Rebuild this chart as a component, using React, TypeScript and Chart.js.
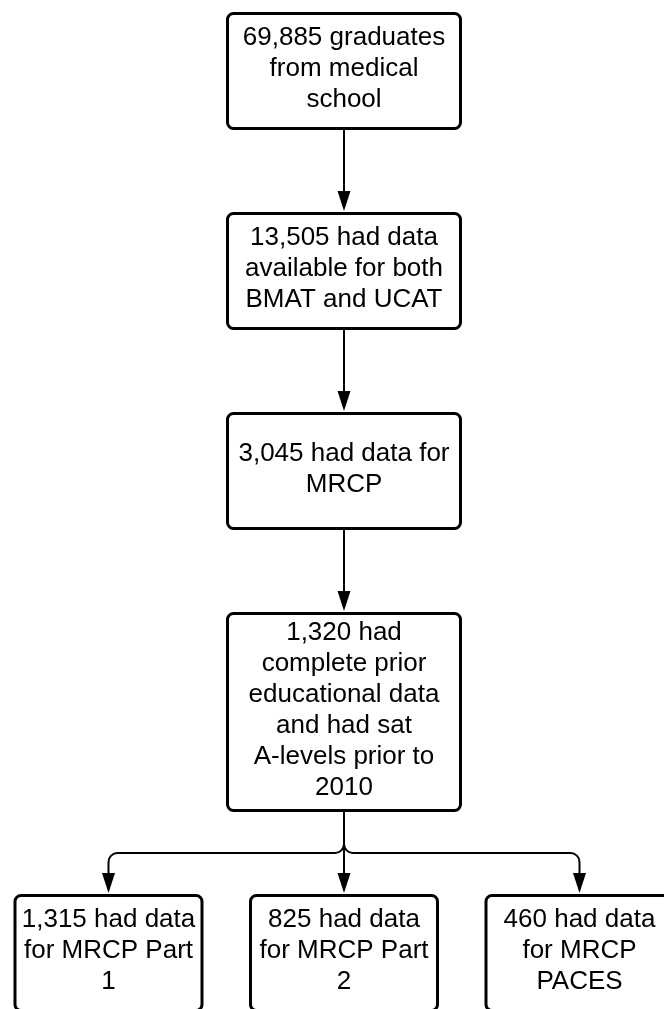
import React, { useEffect, useRef } from "react";
import { Chart, registerables } from "chart.js";

Chart.register(...registerables);

// ---- data ----
const nodeTexts: string[][] = [
  ["69,885 graduates", "from medical", "school"],
  ["13,505 had data", "available for both", "BMAT and UCAT"],
  ["3,045 had data for", "MRCP"],
  ["1,320 had", "complete prior", "educational data", "and had sat", "A-levels prior to", "2010"],
  ["1,315 had data", "for MRCP Part", "1"],
  ["825 had data", "for MRCP Part", "2"],
  ["460 had data", "for MRCP", "PACES"],
];
const nodeRows: number[] = [0, 1, 2, 3, 4, 4, 4];
const nodeCols: number[] = [1, 1, 1, 1, 0, 1, 2];
const edges: [number, number][] = [
  [0, 1],
  [1, 2],
  [2, 3],
  [3, 4],
  [3, 5],
  [3, 6],
];

// ---- layout / style ----
const W = 664;
const H = 1009;
const FONT = '26px "Liberation Sans", Arial, sans-serif';
const LINE_H = 31;
const MIN_BOX_H = 118;
const BOX_PAD = 14;
const FIRST_TOP = 12;
const ROW_GAP = 82;
const COL_PX = 235.5;
const COL0_PX = 108.5;
const WIDE_BOX_W = 236;
const NARROW_BOX_W = 190;
const BORDER_W = 3;
const EDGE_W = 2;
const ARROW_LEN = 20;
const ARROW_HALF = 6.5;
const CORNER_R = 6;
const ELBOW_R = 9;

function boxOuterH(i: number) {
  return Math.max(MIN_BOX_H, nodeTexts[i].length * LINE_H + BOX_PAD);
}

function rowLayout() {
  const nRows = Math.max(...nodeRows) + 1;
  const heights: number[] = [];
  for (let r = 0; r < nRows; r++) {
    let h = 0;
    nodeRows.forEach((row, i) => {
      if (row === r) h = Math.max(h, boxOuterH(i));
    });
    heights.push(h);
  }
  const tops: number[] = [];
  let t = FIRST_TOP;
  for (let r = 0; r < nRows; r++) {
    tops.push(t);
    t += heights[r] + ROW_GAP;
  }
  return { heights, tops };
}

export default function App() {
  const ref = useRef<HTMLCanvasElement | null>(null);

  useEffect(() => {
    if (!ref.current) return;
    const { heights, tops } = rowLayout();
    const rowCount: Record<number, number> = {};
    nodeRows.forEach((r) => (rowCount[r] = (rowCount[r] || 0) + 1));

    const points = nodeTexts.map((_, i) => ({
      x: nodeCols[i],
      y: tops[nodeRows[i]] + heights[nodeRows[i]] / 2,
    }));

    const flowPlugin = {
      id: "flow",
      afterDatasetsDraw(chart: any) {
        const ctx: CanvasRenderingContext2D = chart.ctx;
        const xs = chart.scales.x;
        const ys = chart.scales.y;
        const colW = Math.abs(xs.getPixelForValue(1) - xs.getPixelForValue(0));
        const boxes = nodeTexts.map((lines, i) => {
          const cx = xs.getPixelForValue(points[i].x);
          const cy = ys.getPixelForValue(points[i].y);
          const h = Math.abs(ys.getPixelForValue(points[i].y + boxOuterH(i) / 2) - cy) * 2;
          const w = rowCount[nodeRows[i]] > 1 ? (NARROW_BOX_W / COL_PX) * colW : (WIDE_BOX_W / COL_PX) * colW;
          return { cx, cy, w, h, top: cy - h / 2, bottom: cy + h / 2, lines };
        });

        ctx.save();
        // edges
        ctx.strokeStyle = "#000";
        ctx.fillStyle = "#000";
        ctx.lineWidth = EDGE_W;
        ctx.lineJoin = "round";
        edges.forEach(([a, b]) => {
          const p = boxes[a];
          const c = boxes[b];
          const tipY = c.top - 1;
          const baseY = tipY - ARROW_LEN;
          ctx.beginPath();
          ctx.moveTo(p.cx, p.bottom);
          if (Math.abs(p.cx - c.cx) < 1) {
            ctx.lineTo(c.cx, baseY);
          } else {
            const midY = p.bottom + (c.top - p.bottom) / 2;
            const dir = c.cx > p.cx ? 1 : -1;
            ctx.lineTo(p.cx, midY - ELBOW_R);
            ctx.arcTo(p.cx, midY, p.cx + dir * ELBOW_R, midY, ELBOW_R);
            ctx.lineTo(c.cx - dir * ELBOW_R, midY);
            ctx.arcTo(c.cx, midY, c.cx, midY + ELBOW_R, ELBOW_R);
            ctx.lineTo(c.cx, baseY);
          }
          ctx.stroke();
          ctx.beginPath();
          ctx.moveTo(c.cx - ARROW_HALF, baseY);
          ctx.lineTo(c.cx + ARROW_HALF, baseY);
          ctx.lineTo(c.cx, tipY);
          ctx.closePath();
          ctx.fill();
        });

        // boxes
        boxes.forEach((b) => {
          const inset = BORDER_W / 2;
          const x = b.cx - b.w / 2 + inset;
          const y = b.top + inset;
          const w = b.w - BORDER_W;
          const h = b.h - BORDER_W;
          ctx.beginPath();
          ctx.roundRect(x, y, w, h, CORNER_R);
          ctx.fillStyle = "#fff";
          ctx.fill();
          ctx.lineWidth = BORDER_W;
          ctx.strokeStyle = "#000";
          ctx.stroke();
          ctx.fillStyle = "#000";
          ctx.font = FONT;
          ctx.textAlign = "center";
          ctx.textBaseline = "middle";
          const n = b.lines.length;
          const startY = b.cy - ((n - 1) * LINE_H) / 2 - 2;
          b.lines.forEach((ln, k) => ctx.fillText(ln, b.cx, startY + k * LINE_H));
        });
        ctx.restore();
      },
    };

    const chart = new Chart(ref.current, {
      type: "scatter",
      data: {
        datasets: [
          {
            data: points,
            pointRadius: 0,
            pointHoverRadius: 0,
            showLine: false,
          },
        ],
      },
      options: {
        animation: false,
        responsive: false,
        devicePixelRatio: 1,
        events: [],
        layout: { padding: 0 },
        plugins: { legend: { display: false }, tooltip: { enabled: false } },
        scales: {
          x: {
            type: "linear",
            display: false,
            min: -COL0_PX / COL_PX,
            max: (W - COL0_PX) / COL_PX,
          },
          y: {
            type: "linear",
            display: false,
            reverse: true,
            min: 0,
            max: H,
          },
        },
      },
      plugins: [flowPlugin],
    });
    return () => chart.destroy();
  }, []);

  return (
    <div style={{ position: "absolute", left: 0, top: 0, width: W, height: H, background: "#fff" }}>
      <canvas ref={ref} width={W} height={H} style={{ display: "block" }} />
    </div>
  );
}
